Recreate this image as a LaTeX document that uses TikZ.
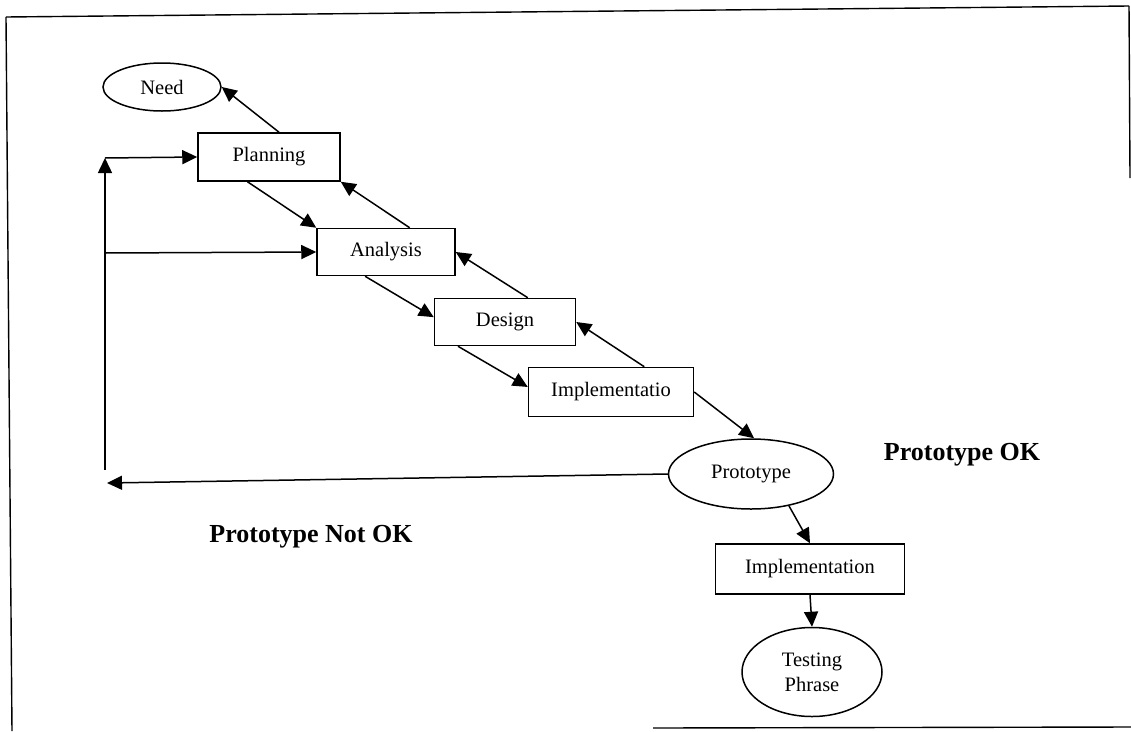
\documentclass[tikz,border=0pt]{standalone}
\usepackage{fontspec}
\setmainfont{Liberation Serif}
\usetikzlibrary{shapes.geometric,arrows.meta,calc}
\begin{document}
\begin{tikzpicture}[x=1pt,y=-1pt,
  every node/.style={font=\fontsize{20.5}{23}\selectfont},
  stagebox/.style={draw,rectangle,line width=1.5pt,inner sep=0pt},
  stageoval/.style={draw,ellipse,line width=1.5pt,inner sep=0pt,align=center},
  flow/.style={line width=1.5pt,-{Triangle[length=15pt,width=14pt]}},
  plain/.style={line width=1.4pt},
  verdict/.style={font=\fontsize{26}{30}\selectfont\bfseries}]
\useasboundingbox (0,0) rectangle (1131,731);

% page frame
\draw[plain] (6,17) -- (1129,6);
\draw[plain] (6,17) -- (12,731);
\draw[plain] (1129,6) -- (1130,178);
\draw[plain] (653,728) -- (1131,727);

% stages
\node[stageoval,minimum width=118,minimum height=48] (need) at (162,87) {Need};
\node[stagebox,minimum width=142,minimum height=48] (plan) at (269,157) {Planning};
\node[stagebox,minimum width=138,minimum height=47] (anal) at (386,252) {Analysis};
\node[stagebox,minimum width=141,minimum height=47] (des) at (505,322) {Design};
\node[stagebox,minimum width=165,minimum height=49] (impa) at (611,392) {Implementatio};
\node[stageoval,minimum width=165,minimum height=70] (proto) at (751,474) {Prototype};
\node[stagebox,minimum width=189,minimum height=50] (impb) at (810,569) {Implementation};
\node[stageoval,minimum width=140,minimum height=89] (test) at (812,672) {Testing\\[2pt]Phrase};

\node[verdict] (ok) at (962,455) {Prototype OK};
\node[verdict] (notok) at (311,537) {Prototype Not OK};

% return path
\coordinate (rtop) at (105,158);
\coordinate (rbot) at (105,470);
\coordinate (rmid) at (105,253);
\coordinate (rend) at (107,483);

% forward and backward steps
\draw[flow] ($(plan.north west)!0.57!(plan.north east)$) -- (need.east);
\draw[flow] ($(plan.south west)!0.35!(plan.south east)$) -- (anal.north west);
\draw[flow] ($(anal.north west)!0.67!(anal.north east)$) -- (plan.south east);
\draw[flow] ($(anal.south west)!0.35!(anal.south east)$) -- ($(des.north west)!0.4!(des.south west)$);
\draw[flow] ($(des.north west)!0.66!(des.north east)$) -- (anal.east);
\draw[flow] ($(des.south west)!0.17!(des.south east)$) -- ($(impa.north west)!0.4!(impa.south west)$);
\draw[flow] ($(impa.north west)!0.70!(impa.north east)$) -- (des.east);
\draw[flow] (impa.east) -- (proto.85);
\draw[flow] (proto.-40) -- (impb.north);
\draw[flow] (impb.south) -- (test.north);

% loop back when the prototype fails
\draw[flow] (proto.west) -- (rend);
\draw[flow] (rbot) -- (rtop);
\draw[flow] (rtop) -- (plan.west);
\draw[flow] (rmid) -- (anal.west);
\end{tikzpicture}
\end{document}
